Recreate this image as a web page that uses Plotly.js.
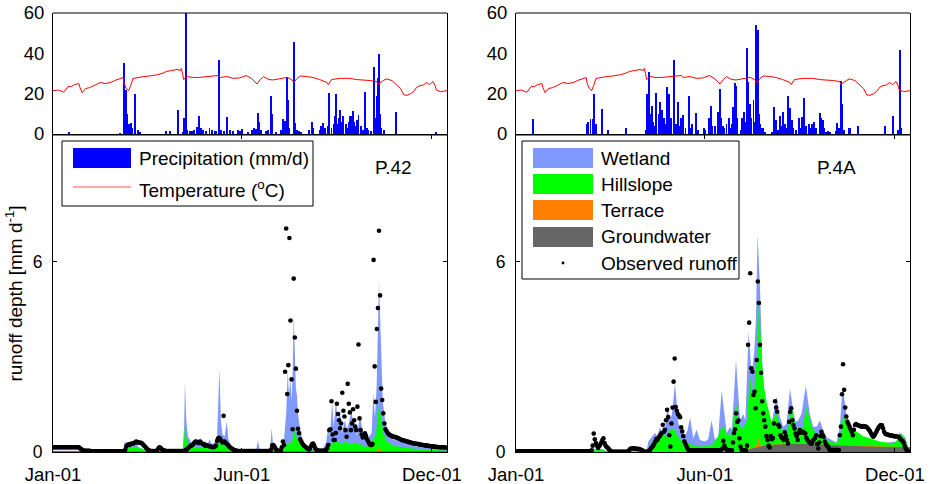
<!DOCTYPE html>
<html><head><meta charset="utf-8">
<script src="https://cdn.plot.ly/plotly-3.0.1.min.js"></script>
<style>html,body{margin:0;padding:0;background:#fff}#chart{width:932px;height:484px}</style>
</head><body><div id="chart"></div>
<script>
// ---------------- DATA ----------------
// x axis: day of year 2001 (0 = 1 Jan)
const tickDays = [0, 175, 351];
const tickLabels = ["Jan-01", "Jun-01", "Dec-01"];

// Temperature (deg C), same station for both panels
const tempDay = [0,5,10,13,14,17,20,24,25,27,30,34,39,44,48,53,57,62,65,66,68,70,72,74,78,84,90,96,102,105,110,115,118,119,120,121,124,130,136,142,149,153,155,161,167,173,179,184,189,192,195,200,204,210,217,221,223,226,229,235,241,247,254,255,258,266,275,281,288,294,300,301,306,309,314,318,322,325,328,331,334,337,340,343,346,349,352,354,355,359,365];
const tempVal = [21.5,21.8,20.7,22.5,23.5,23.5,24.5,25,23,20.5,22.5,23,24.5,25.6,25,25.5,26.5,27.5,28,25,22.5,21.5,24,27.5,28,28.5,28.8,29.3,30.2,31,31.5,32,31.5,32.5,30,27,28.5,28,28.1,28.3,28.5,29,28,28.5,27.6,27.8,29,27.5,24.8,27,28.4,27,26.8,27.5,28.1,27,25.5,27.5,28.8,28.5,28,27,25.5,24.5,27,27.6,27.6,27,26.8,26.5,26,24.5,26.5,27.3,26.5,24.3,22.5,19.4,19.2,19.9,21,23.2,24,24.3,25.5,24.5,26,24,21.9,21,21.5];

// Precipitation (mm/d) - P.42
const precipL_day = [15,62,66,67,68,69,70,71,72,73,76,79,81,105,108,116,120,121,123,124,127,129,131,133,135,137,139,142,145,147,150,151,154,156,158,161,164,167,171,173,175,181,184,186,188,190,191,193,197,199,202,203,207,211,213,215,217,218,219,223,224,226,228,230,237,240,241,247,248,250,252,255,256,258,260,261,262,263,265,266,267,269,271,272,274,275,276,278,279,281,282,283,285,287,289,291,292,295,297,299,300,301,302,303,304,307,318,355];
const precipL_val = [1,0.5,35,22,22,10,5,4,5.7,3,20,2,1,1.5,1.5,11.7,1,8,60,2,1.5,1.5,2,3.5,9,3,2,1.5,3,2,1.5,1.5,36.7,2,1.5,8.4,2,1.5,2,1.5,2.5,1,2,3,2.5,10.4,6,2,1.5,2,18.6,10,1,2,7.6,6.6,28.4,17,3,45.4,5.4,2,1.5,1,2,6.2,3,2,4,5.5,3,4,20.2,3,5,9,19.7,5,8,12,6,8.7,5,3,6,9,9,11.5,6,4,7,9.5,4,2,20.9,3,2,1.5,33.4,8,18.6,28,39.6,10,3,2,10.7,1];

// Precipitation (mm/d) - P.4A
const precipR_day = [16,66,67,69,71,72,74,80,85,102,120,121,123,124,126,127,129,130,132,133,135,136,137,138,140,141,142,143,144,146,148,149,150,152,153,154,155,157,160,162,163,167,169,174,175,179,181,182,184,187,189,190,192,193,195,197,198,200,201,203,204,205,208,209,211,212,214,215,217,218,220,221,222,224,225,226,227,229,231,237,239,241,243,245,246,247,249,251,252,253,254,256,257,259,262,263,265,266,267,269,271,272,274,275,276,278,282,283,284,285,287,289,291,296,297,299,301,302,304,308,309,317,342,349,354,356,357];
const precipR_val = [7.4,5,6,7.5,7.4,19.7,5,12.5,2,3,2,20,30.6,10,14,6,4,20.5,10,16,12,4,8,5,23.2,6,20,4,8,36.7,5,3,16,4,8,3,9.5,3,19,3,5,10.4,2,3,2,7.9,14,4,4,11,22.4,8,4,3,5,7.9,3,5,13.6,25.5,24,8,2,8,10.8,6,42.4,26,15,8,17,6,53.9,51.4,10,5,3,3,1,1,13.3,7,2,8.7,4,10.8,5,3,18.6,6,12.8,7,3,2,7.9,3,8.4,5,18,4,5,3,5,4,6,3,10.4,8,7,3,1,1.5,1,1.5,5.4,3,26.5,15,2,3,3,4,4,9,2,41.6,3];

// Modelled runoff components, P.42 (cumulative tops, mm/d)
const wetL_day = [0,65,66.8,68,71,75,77,79,85,90,120,121.5,122.2,123.5,125,128,131,133,135,137,139,141,143,145,147,150,152,154.2,155.5,157,159,161,162.5,165,168,172,188,190,191.5,201,202.6,204,210,214,216,217.5,218.5,220,221,222,223,224,225,226,227,229,231,234,240,250,253,255,256.5,258.7,260,262.3,263.5,265.9,267.5,270.5,272,274,276.7,278,279.8,281.3,284.4,287.5,290.6,295.2,296.8,298.3,299.8,302,303.6,305.5,307.7,310.8,315,321.3,335,352,365];
const wetL_val = [0.04,0.03,0.38,0.12,0.15,0.2,0.33,0.15,0.08,0.03,0.03,0.8,2.22,1.0,0.5,0.3,0.25,0.4,0.25,0.45,0.2,0.35,0.22,0.4,0.25,0.3,0.5,2.64,1.0,0.55,0.5,0.96,0.4,0.2,0.1,0.05,0.04,0.36,0.05,0.05,0.75,0.15,0.1,0.4,1.2,2.6,1.8,2.3,1.6,2.5,4.33,3.0,2.0,1.8,1.2,0.7,0.4,0.2,0.1,0.1,0.3,0.8,0.5,1.6,0.8,1.66,0.9,1.33,0.6,1.0,0.7,0.9,1.33,0.8,0.96,0.5,1.12,0.54,0.38,0.6,1.85,1.1,2.06,5.4,3.5,1.6,1.0,0.54,0.4,0.33,0.18,0.12,0.08];
const hillL_day = [0,66,67,70,74,78,82,86,90,121,122,123,126,130,135,140,145,150,153,154.5,156,159,161,163,166,170,201,203,205,213,216,219,221,224,226,229,232,236,252,255,259,263,267,270,275,280,285,289,294,297,299,302,304,306,309,315,325,340,365];
const hillL_val = [0.02,0.02,0.12,0.15,0.12,0.15,0.1,0.05,0.02,0.02,0.8,0.5,0.25,0.15,0.12,0.15,0.12,0.15,0.25,0.35,0.25,0.2,0.3,0.15,0.08,0.03,0.03,0.2,0.08,0.05,0.25,0.3,0.25,0.72,0.45,0.3,0.15,0.05,0.05,0.2,0.3,0.35,0.25,0.35,0.25,0.3,0.25,0.15,0.25,0.45,0.5,1.5,1.0,0.6,0.35,0.2,0.15,0.08,0.04];
const terrL_day = [0,300,302.5,304,365];
const terrL_val = [0.02,0.02,0.15,0.02,0.02];
const gwL_day = [0,365];
const gwL_val = [0.02,0.02];

// Modelled runoff components, P.4A (cumulative tops, mm/d)
const wetR_day = [0,70,71.5,74,78,81,85,121,122.6,128.8,131,133.4,135,136.5,138,140.2,142.6,144.5,147.3,150.4,153.5,156.6,159,161.2,164.3,167.3,170.4,175,178,181.2,184.3,187.4,190.5,195.2,198.2,200,203.8,207.5,210.6,212.5,215.5,218.3,220.8,222.3,223.8,226,228.4,230.6,233.7,236.8,241.4,244.5,247.6,250.7,253.8,256.8,259,261.4,264.5,268.5,272.2,275.3,278.5,281.6,286.1,291,296.9,300,302.5,306.1,312.3,324.7,337,352.5,355.6,358,360.2,364.2,365];
const wetR_val = [0.01,0.01,0.15,0.05,0.1,0.08,0.02,0.02,0.33,0.6,0.5,0.8,0.6,0.9,0.7,1.43,1.0,1.2,2.17,0.9,0.6,0.5,0.7,1.1,0.43,0.7,0.38,0.33,0.4,1.0,0.38,0.5,1.95,0.6,0.8,0.7,2.9,1.0,1.2,1.0,3.8,2.4,3.2,4.2,6.85,5.2,2.6,1.6,1.0,0.9,1.75,1.1,0.8,0.9,2.0,1.3,0.95,1.0,1.2,2.1,1.2,0.8,0.8,1.0,0.5,0.4,0.3,0.8,2.06,1.2,0.6,0.33,0.27,0.33,0.64,0.45,0.5,0.06,0.05];
const hillR_day = [0,70,72,76,80,84,122,122.6,126,130,133,136.5,140,142.6,147,149,152,156,161,165,170,181,187.4,190.5,192,196.6,200,204,206,209,213.7,216.8,219.9,223,225,227.5,230,232,236.8,241.4,244.5,250.7,255.4,259.3,264.5,269.2,273.8,280,281.6,287.8,297,301,303.2,309.3,321.7,337,349.6,354,357.2,361,364,365];
const hillR_val = [0.01,0.01,0.1,0.05,0.08,0.01,0.01,0.13,0.3,0.43,0.4,0.55,0.5,0.7,0.72,0.55,0.38,0.3,0.27,0.2,0.17,0.2,0.5,0.8,0.8,0.5,0.6,1.5,1.0,0.7,0.95,2.4,1.6,2.9,4.7,3.0,2.0,1.6,0.95,1.25,0.8,0.5,1.4,0.8,0.6,1.4,0.8,0.5,0.6,0.38,0.27,0.5,1.2,0.8,0.5,0.33,0.27,0.4,0.6,0.38,0.06,0.05];
const terrR_day = [0,205,212,220,223,225,226.5,230,240,255,270,285,300,320,340,360,365];
const terrR_val = [0,0,0.04,0.14,0.2,0.45,0.22,0.21,0.24,0.26,0.26,0.23,0.21,0.19,0.17,0.16,0.16];
const gwR_day = [0,205,212,220,230,240,255,270,285,300,320,340,360,365];
const gwR_val = [0,0,0.03,0.12,0.2,0.23,0.25,0.25,0.22,0.2,0.18,0.16,0.15,0.15];

// Observed runoff (mm/d), one value per day from 1 Jan, rows of 10 days
const obsL = [
0.15,0.15,0.15,0.15,0.15,0.15,0.15,0.15,0.15,0.15,
0.15,0.15,0.15,0.15,0.15,0.15,0.15,0.15,0.15,0.15,
0.15,0.15,0.15,0.15,0.15,0.12,0.09,0.07,0.05,0.04,
0.04,0.04,0.04,0.04,0.04,0.02,0.02,0.02,0.02,0.02,
0.02,0.02,0.02,0.02,0.02,0.02,0.02,0.02,0.02,0.02,
0.02,0.02,0.02,0.02,0.02,0.02,0.02,0.02,0.02,0.02,
0.02,0.02,0.02,0.02,0.02,0.02,0.02,0.08,0.18,0.22,
0.24,0.22,0.25,0.27,0.26,0.28,0.3,0.33,0.31,0.3,
0.3,0.29,0.28,0.25,0.21,0.18,0.14,0.1,0.07,0.05,
0.03,0.03,0.03,0.03,0.03,0.03,0.03,0.08,0.13,0.15,
0.12,0.08,0.06,0.05,0.03,0.03,0.03,0.03,0.03,0.03,
0.03,0.03,0.03,0.03,0.03,0.03,0.03,0.03,0.03,0.03,
0.03,0.03,0.04,0.06,0.09,0.12,0.15,0.18,0.2,0.22,
0.25,0.3,0.33,0.32,0.3,0.28,0.33,0.3,0.27,0.25,
0.24,0.2,0.22,0.2,0.19,0.18,0.17,0.16,0.15,0.15,
0.17,0.2,0.35,0.43,0.45,0.4,0.35,0.3,1.14,0.33,
0.28,0.25,0.22,0.18,0.15,0.12,0.1,0.08,0.06,0.05,
0.04,0.03,0.03,0.03,0.03,0.03,0.03,0.03,0.03,0.03,
0.03,0.03,0.03,0.03,0.03,0.03,0.03,0.03,0.03,0.03,
0.03,0.03,0.03,0.03,0.03,0.03,0.03,0.03,0.03,0.03,
0.03,0.03,0.08,0.2,0.22,0.18,0.12,0.06,0.04,0.03,
0.03,0.05,0.15,0.33,0.22,2.53,7.05,1.83,2.74,6.75,
4.15,2.29,0.72,5.47,3.61,2.63,1.3,0.73,0.59,0.4,
0.33,0.27,0.22,0.19,0.16,0.13,0.1,0.08,0.1,0.18,
0.25,0.27,0.2,0.12,0.07,0.05,0.04,0.04,0.04,0.04,
0.04,0.04,0.04,0.06,0.12,0.22,0.69,0.72,1.6,0.55,
0.38,0.38,0.6,1.52,1.2,1.0,0.75,0.9,1.87,1.3,
1.12,0.69,0.48,2.15,1.52,1.25,0.69,0.9,1.35,1.0,
0.8,0.69,1.43,3.39,1.06,0.69,0.55,0.46,0.5,0.59,
0.5,0.4,0.33,0.27,0.22,0.22,0.25,6.06,2.7,1.58,
3.88,4.54,6.98,4.94,2.0,1.64,1.22,0.9,0.72,0.66,
0.6,0.56,0.54,0.52,0.5,0.49,0.48,0.47,0.46,0.44,
0.43,0.41,0.4,0.38,0.37,0.36,0.35,0.34,0.33,0.32,
0.31,0.3,0.29,0.28,0.27,0.27,0.26,0.26,0.25,0.24,
0.24,0.23,0.22,0.22,0.21,0.21,0.2,0.2,0.19,0.19,
0.18,0.18,0.17,0.17,0.17,0.16,0.16,0.16,0.15,0.15,
0.15,0.15,0.15,0.14,0.14];
const obsR = [
0.02,0.02,0.02,0.02,0.02,0.02,0.02,0.02,0.02,0.02,
0.02,0.02,0.02,0.02,0.02,0.02,0.02,0.02,0.02,0.02,
0.02,0.02,0.02,0.02,0.02,0.02,0.02,0.02,0.02,0.02,
0.02,0.02,0.02,0.02,0.02,0.02,0.02,0.02,0.02,0.02,
0.02,0.02,0.02,0.02,0.02,0.02,0.02,0.02,0.02,0.02,
0.02,0.02,0.02,0.02,0.02,0.02,0.02,0.02,0.02,0.02,
0.02,0.02,0.02,0.02,0.02,0.02,0.02,0.02,0.02,0.02,
0.05,0.2,0.58,0.4,0.28,0.2,0.13,0.18,0.23,0.3,
0.38,0.43,0.28,0.2,0.16,0.13,0.09,0.05,0.02,0.01,
0.01,0.01,0.01,0.01,0.01,0.01,0.01,0.01,0.01,0.01,
0.01,0.01,0.01,0.01,0.02,0.06,0.1,0.11,0.11,0.12,
0.11,0.1,0.1,0.1,0.09,0.08,0.07,0.05,0.02,0.01,
0.01,0.01,0.01,0.04,0.06,0.12,0.15,0.2,0.25,0.32,
0.41,0.38,0.45,0.5,0.55,0.6,0.86,0.64,0.7,1.0,
1.33,1.1,0.53,0.17,0.9,1.4,2.22,2.95,1.42,1.3,
1.2,1.15,1.1,0.78,0.65,0.5,0.33,0.25,0.17,0.1,
0.06,0.05,0.05,0.05,0.05,0.05,0.05,0.05,0.05,0.05,
0.05,0.05,0.05,0.05,0.05,0.05,0.05,0.05,0.05,0.05,
0.05,0.05,0.05,0.05,0.05,0.05,0.05,0.05,0.05,0.05,
0.06,0.1,0.35,0.2,0.12,0.08,0.05,0.05,0.05,0.05,
0.05,0.3,0.6,0.72,1.22,0.95,1.0,0.43,0.17,0.08,
0.05,0.05,0.05,0.05,0.2,3.38,4.08,5.64,2.64,2.53,
1.8,1.9,1.38,2.9,5.38,4.7,3.38,2.5,1.6,1.22,
1.0,0.8,0.5,0.38,0.2,0.14,0.5,0.4,0.44,0.9,
1.6,1.4,1.27,0.86,0.8,0.53,0.46,0.43,0.38,0.62,
0.5,0.38,0.27,0.95,1.26,1.38,1.0,0.85,0.74,0.58,
0.5,0.38,0.6,0.69,0.62,0.62,0.64,0.6,0.58,0.45,
0.38,0.33,0.3,0.27,0.27,0.35,0.4,0.43,0.53,0.25,
0.11,0.3,0.5,0.64,0.55,0.48,0.33,0.25,0.2,0.17,
0.1,0.06,0.06,0.06,0.06,0.06,0.06,0.06,0.06,0.06,
0.53,0.8,1.82,2.77,1.96,1.4,1.12,0.95,0.88,0.8,
0.72,0.64,0.53,0.7,0.85,0.88,0.85,0.84,0.83,0.82,
0.8,0.8,0.82,0.8,0.8,0.78,0.74,0.7,0.65,0.58,
0.52,0.48,0.52,0.58,0.65,0.72,0.78,0.82,0.85,0.84,
0.75,0.64,0.58,0.56,0.55,0.54,0.53,0.52,0.52,0.51,
0.5,0.5,0.49,0.49,0.48,0.46,0.42,0.38,0.35,0.3,
0.2,0.12,0.06,0.02,0.01];

const panelLabels = ["P.42", "P.4A"];
const legendLeft = ["Precipitation (mm/d)", "Temperature (<sup>o</sup>C)"];
const legendRight = ["Wetland", "Hillslope", "Terrace", "Groundwater", "Observed runoff"];

// ---------------- STYLE / LAYOUT ----------------
const C = {precip:'#0000ff', temp:'#ff0000', wet:'#8099ff', hill:'#00ff00', terr:'#ff8000', gw:'#666666', obs:'#000000'};
const FONT = 'Liberation Sans, Arial, Helvetica, sans-serif';
const W = 932, H = 484, ML = 53, MR = 22, MT = 13, MB = 32;
const PW = W - ML - MR, PH = H - MT - MB;
const px = x => (x - ML) / PW;
const py = y => (H - MB - y) / PH;
const xDomL = [px(53), px(447)], xDomR = [px(516), px(910)];
const yDomTop = [py(134), 1], yDomBot = [0, py(135)];
const days = arr => arr.map((_, i) => i);

function area(x, y, color, xa, ya, name) {
  return {type:'scatter', mode:'lines', x:x, y:y, fill:'tozeroy', fillcolor:color,
          line:{width:0, color:color}, xaxis:xa, yaxis:ya, name:name, hoverinfo:'skip'};
}
function panelTraces(pDay, pVal, wet, hill, terr, gw, obs, xt, yt, xb, yb) {
  return [
    {type:'bar', x:pDay, y:pVal, width:1.8, marker:{color:C.precip, line:{width:0, color:C.precip}}, xaxis:xt, yaxis:yt, name:'Precipitation (mm/d)'},
    {type:'scatter', mode:'lines', x:tempDay, y:tempVal, line:{color:C.temp, width:1}, xaxis:xt, yaxis:yt, name:'Temperature'},
    area(wet[0], wet[1], C.wet, xb, yb, 'Wetland'),
    area(hill[0], hill[1], C.hill, xb, yb, 'Hillslope'),
    area(terr[0], terr[1], C.terr, xb, yb, 'Terrace'),
    area(gw[0], gw[1], C.gw, xb, yb, 'Groundwater'),
    {type:'scatter', mode:'markers', x:days(obs), y:obs, marker:{color:C.obs, size:4.6, line:{width:0}}, xaxis:xb, yaxis:yb, name:'Observed runoff'}
  ];
}
const data = [].concat(
  panelTraces(precipL_day, precipL_val, [wetL_day, wetL_val], [hillL_day, hillL_val], [terrL_day, terrL_val], [gwL_day, gwL_val], obsL, 'x', 'y', 'x2', 'y2'),
  panelTraces(precipR_day, precipR_val, [wetR_day, wetR_val], [hillR_day, hillR_val], [terrR_day, terrR_val], [gwR_day, gwR_val], obsR, 'x3', 'y3', 'x4', 'y4')
);

const xTickFont = {family:FONT, size:18.5, color:'#000'};
const yTickFont = {family:FONT, size:17.5, color:'#000'};
function topX(dom, anchor) {
  return {domain:dom, anchor:anchor, range:[0,365], showticklabels:false, ticks:'', showgrid:false, zeroline:false,
          showline:true, linecolor:'#808080', linewidth:1.5, fixedrange:true};
}
function topY(dom, anchor) {
  return {domain:dom, anchor:anchor, range:[0,60], tickvals:[0,20,40,60], ticks:'', showgrid:false, zeroline:false,
          showline:true, mirror:true, linecolor:'#000', linewidth:1, tickfont:{family:FONT, size:18.5, color:'#000'}, ticklabelstandoff:4};
}
function botX(dom, anchor) {
  return {domain:dom, anchor:anchor, range:[0,365], tickvals:tickDays, ticktext:tickLabels, ticks:'inside', ticklen:4,
          tickcolor:'#000', showgrid:false, zeroline:false, showline:true, mirror:'ticks', linecolor:'#000', linewidth:1,
          tickfont:xTickFont, ticklabelstandoff:6};
}
function botY(dom, anchor, title) {
  const a = {domain:dom, anchor:anchor, range:[0,10], tickvals:[0,6], ticks:'inside', ticklen:4, tickcolor:'#000',
          showgrid:false, zeroline:false, showline:true, mirror:'ticks', linecolor:'#000', linewidth:1,
          tickfont:yTickFont, ticklabelstandoff:6};
  if (title) a.title = {text:title, font:{family:FONT, size:19, color:'#000'}, standoff:5};
  return a;
}

const shapes = [];
const annotations = [];
function rect(x0, y0, x1, y1, fill, lineColor, lw) {
  shapes.push({type:'rect', xref:'paper', yref:'paper', x0:px(x0), x1:px(x1), y0:py(y1), y1:py(y0),
               fillcolor:fill, line:{color:lineColor || fill, width:lw === undefined ? 0 : lw}, layer:'above'});
}
function label(text, x, y, anchor) {
  annotations.push({text:text, xref:'paper', yref:'paper', x:px(x), y:py(y), xanchor:anchor || 'left', yanchor:'middle',
                    showarrow:false, font:{family:FONT, size:19, color:'#000'}});
}
// top borders of upper panels
['x','x3'].forEach(xa => {
  const ya = xa === 'x' ? 'y' : 'y3';
  shapes.push({type:'line', xref:xa + ' domain', yref:ya + ' domain', x0:0, x1:1, y0:1, y1:1, line:{color:'#000', width:1}});
});
// left legend
rect(62, 141, 313, 206, '#ffffff', '#000000', 1);
rect(73, 148, 131, 168, C.precip);
shapes.push({type:'line', xref:'paper', yref:'paper', x0:px(73), x1:px(131), y0:py(187), y1:py(187), line:{color:'#ff5050', width:1}});
label(legendLeft[0], 137, 158);
label(legendLeft[1], 137, 189);
label(panelLabels[0], 393, 167, 'center');
// right legend
rect(522, 141, 739, 279, '#ffffff', '#000000', 1);
const swCols = [C.wet, C.hill, C.terr, C.gw];
const rowY = [158, 184, 210, 237, 263];
swCols.forEach((c, i) => rect(533, rowY[i] - 10, 593, rowY[i] + 10, c));
shapes.push({type:'circle', xref:'paper', yref:'paper', x0:px(561.6), x1:px(564.4), y0:py(264.4), y1:py(261.6),
             fillcolor:'#000', line:{color:'#000', width:0}});
legendRight.forEach((t, i) => label(t, 599, rowY[i]));
label(panelLabels[1], 836, 167, 'center');

const layout = {
  width:W, height:H, margin:{l:ML, r:MR, t:MT, b:MB}, paper_bgcolor:'#fff', plot_bgcolor:'#fff',
  showlegend:false, font:{family:FONT, size:17, color:'#000'}, bargap:0,
  xaxis:topX(xDomL, 'y'), yaxis:topY(yDomTop, 'x'),
  xaxis2:botX(xDomL, 'y2'), yaxis2:botY(yDomBot, 'x2', 'runoff depth [mm d<sup>-1</sup>]'),
  xaxis3:topX(xDomR, 'y3'), yaxis3:topY(yDomTop, 'x3'),
  xaxis4:botX(xDomR, 'y4'), yaxis4:botY(yDomBot, 'x4'),
  shapes:shapes, annotations:annotations
};
Plotly.newPlot('chart', data, layout, {displayModeBar:false, staticPlot:true});
</script>
</body></html>
